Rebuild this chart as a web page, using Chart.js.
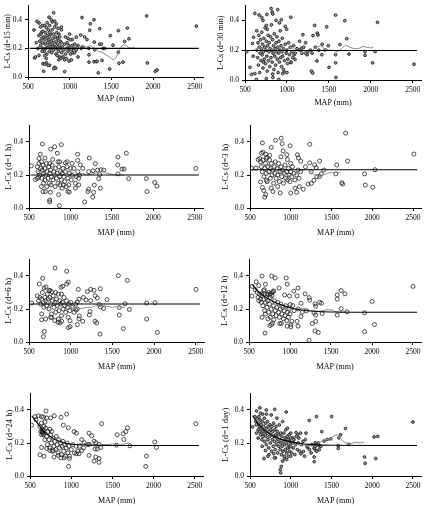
<!DOCTYPE html>
<html>
<head>
<meta charset="utf-8">
<script src="https://cdn.jsdelivr.net/npm/chart.js@4"></script>
<style>
  body { margin: 0; width: 426px; height: 506px; background: #fff; overflow: hidden; position: relative; }
  canvas { position: absolute; }
</style>
</head>
<body>
<script>
// tick labels
const xTicks = [500, 1000, 1500, 2000, 2500];
const yTicks = [0, 0.2, 0.4];
const durations = ["15 min", "30 min", "1 h", "3 h", "6 h", "12 h", "24 h", "1 day"];

// stations: [MAP (mm), L-Cs]
const pts15min = [[808,.449],[752,.418],[1148,.416],[1292,.40],[1248,.373],[1240,.327],[1360,.338],[1924,.427],[2520,.356],[1692,.342],[1584,.324],[1488,.289],[1712,.267],[1660,.249],[1520,.222],[1360,.229],[1296,.244],[1208,.262],[1132,.293],[1080,.278],[1032,.262],[900,.349],[1232,.155],[1232,.104],[1292,.107],[1320,.107],[1388,.116],[1344,.029],[1480,.056],[1592,.096],[1640,.104],[1584,.173],[1932,.098],[2028,.04],[2048,.049],[1100,.14],[992,.111],[940,.038],[820,.067],[832,.062],[808,.058],[760,.082],[740,.082],[688,.04],[680,.093],[632,.151],[580,.133],[572,.329],[608,.389],[632,.378],[672,.36],[660,.311],[720,.345],[760,.36],[792,.385],[820,.39],[1000,.3],[1100,.22],[1050,.2],[1160,.21],[1300,.19],[1400,.2],
  [640,.25],[650,.22],[655,.3],[665,.27],[670,.24],[675,.2],[680,.32],[690,.28],[695,.18],[700,.26],[705,.23],[710,.31],[715,.2],[720,.27],[725,.16],[730,.29],[735,.24],[740,.21],[745,.33],[750,.26],[755,.18],[760,.28],[765,.23],[770,.3],[775,.2],[780,.25],[785,.17],[790,.33],[795,.22],[800,.27],[805,.3],[810,.19],[815,.24],[820,.35],[825,.21],[830,.28],[835,.16],[840,.25],[845,.31],[850,.2],[855,.23],[860,.27],[865,.18],[870,.3],[875,.22],[880,.14],[885,.25],[890,.2],[895,.13],[900,.24],[905,.17],[910,.21],[920,.14],[930,.19],[940,.23],[950,.16],[960,.2],[970,.24],[980,.18],[990,.22],[1000,.2],[1010,.16],[1020,.19],[1030,.22],[1040,.17],[1060,.23],[1080,.19],[1090,.21],[700,.15],[720,.13],[650,.35],[630,.29],[620,.2],[600,.24],[590,.14],[700,.36],[730,.38],[780,.4],[840,.37],[860,.34],[880,.28],[900,.33],[950,.28],[980,.27],[1010,.26],[760,.31],[800,.21],[850,.15],[870,.12],[940,.12],[960,.13],[1020,.12],[1060,.17],[720,.1],[700,.09],[670,.18],[1140,.2],[1180,.28],[1230,.2],[1330,.11],[1380,.23],[1420,.2]];

const pts30min = [[520,.19],[617,.447],[668,.436],[715,.40],[754,.366],[765,.34],[812,.48],[824,.457],[832,.443],[890,.472],[910,.383],[933,.404],[1046,.421],[996,.34],[1190,.304],[1330,.366],[1362,.315],[1370,.302],[1311,.298],[1475,.357],[1580,.436],[1690,.398],[1713,.277],[2080,.387],[2516,.106],[2021,.115],[2052,.191],[1931,.191],[1931,.166],[1740,.174],[1631,.238],[1580,.17],[1580,.115],[1584,.017],[1502,.085],[1494,.23],[1455,.202],[1416,.17],[1358,.128],[1292,.06],[1307,.047],[1241,.17],[1222,.18],[1175,.213],[1222,.25],[1151,.26],[1085,.17],[1097,.138],[1046,.117],[1007,.11],[968,.053],[949,.043],[902,.004],[832,.017],[754,.01],[636,.004],[617,.043],[578,.038],[559,.085],[598,.16],[590,.245],[602,.287],
  [640,.2],[650,.15],[655,.25],[660,.1],[665,.3],[670,.22],[675,.05],[680,.18],[685,.27],[690,.13],[695,.21],[700,.32],[705,.17],[710,.24],[715,.08],[720,.19],[725,.28],[730,.14],[735,.22],[740,.35],[745,.11],[750,.2],[755,.26],[760,.16],[765,.06],[770,.23],[775,.3],[780,.13],[785,.19],[790,.25],[795,.09],[800,.21],[805,.29],[810,.15],[815,.37],[820,.2],[825,.12],[830,.27],[835,.18],[840,.23],[845,.07],[850,.31],[855,.16],[860,.21],[865,.1],[870,.25],[875,.19],[880,.29],[885,.14],[890,.22],[895,.05],[900,.18],[905,.26],[910,.12],[915,.2],[920,.33],[925,.15],[930,.23],[935,.09],[940,.19],[945,.28],[950,.16],[960,.21],[970,.13],[980,.24],[990,.18],[1000,.2],[1010,.14],[1020,.25],[1030,.17],[1040,.22],[1050,.12],[1060,.19],[1070,.15],[1080,.23],[1100,.18],[1120,.21],[1150,.2],[1180,.18],[1200,.22],[1250,.19],[1280,.2],[1300,.18],[1340,.22],[1380,.2],[1420,.24],[700,.42],[760,.44],[870,.4],[980,.36],[640,.33],[720,.12],[830,.04],[960,.07],[1000,.05]];

const pts1h = [[528,.255],[661,.388],[890,.384],[810,.371],[762,.357],[842,.332],[637,.326],[693,.303],[786,.294],[850,.28],[750,.269],[939,.274],[1087,.326],[1088,.288],[1120,.261],[1228,.303],[1301,.269],[1273,.226],[1220,.22],[1328,.23],[1353,.203],[1341,.178],[1369,.232],[1401,.23],[1361,.12],[1289,.139],[1281,.095],[1269,.066],[1220,.114],[1212,.1],[1172,.037],[1059,.12],[970,.1],[986,.096],[858,.081],[866,.014],[750,.037],[750,.048],[669,.1],[758,.095],[577,.172],[617,.187],[1574,.309],[1571,.261],[1574,.207],[1675,.332],[1647,.236],[1622,.236],[1703,.178],[1916,.178],[1924,.1],[2017,.155],[2045,.133],[2512,.24],
  [600,.25],[610,.22],[620,.27],[630,.2],[640,.24],[650,.28],[655,.18],[660,.23],[670,.26],[675,.15],[680,.21],[690,.24],[695,.17],[700,.2],[710,.27],[715,.13],[720,.22],[730,.18],[740,.25],[745,.15],[750,.21],[760,.23],[765,.14],[770,.19],[780,.26],[790,.17],[800,.22],[810,.2],[815,.13],[820,.24],[830,.18],[840,.21],[850,.15],[860,.25],[870,.19],[875,.14],[880,.22],[890,.17],[900,.21],[910,.24],[915,.14],[920,.19],[930,.16],[940,.22],[950,.13],[960,.25],[970,.18],[980,.14],[990,.21],[1000,.24],[1010,.17],[1020,.2],[1040,.24],[1060,.15],[1070,.19],[1090,.22],[1100,.18],[1110,.2],[1150,.24],[1100,.14],[600,.18],[650,.13],[700,.1],[900,.12],[620,.3],[870,.28],[960,.28],[1020,.27]];

const pts3h = [[520,.242],[572,.242],[600,.294],[620,.3],[641,.332],[661,.338],[652,.394],[693,.326],[709,.307],[741,.319],[761,.367],[813,.41],[882,.423],[894,.39],[906,.346],[952,.323],[992,.377],[958,.294],[1082,.323],[1094,.303],[1122,.284],[1233,.386],[1233,.274],[1293,.261],[1313,.245],[1354,.284],[1406,.23],[1374,.207],[1354,.191],[1285,.168],[1253,.149],[1213,.145],[1153,.114],[1104,.129],[1052,.12],[1000,.091],[1072,.095],[871,.091],[693,.081],[681,.066],[669,.106],[653,.124],[629,.158],[701,.168],[781,.1],[1564,.261],[1552,.207],[1625,.153],[1637,.145],[1697,.284],[1673,.454],[1906,.207],[1914,.139],[2006,.126],[2034,.232],[2510,.327],
  [630,.28],[640,.25],[650,.22],[660,.29],[670,.19],[680,.24],[690,.27],[700,.21],[710,.16],[720,.25],[730,.22],[740,.29],[750,.18],[755,.24],[760,.27],[770,.2],[780,.23],[790,.15],[800,.25],[805,.21],[810,.28],[820,.18],[830,.24],[840,.2],[850,.27],[860,.16],[870,.22],[880,.25],[890,.19],[900,.23],[910,.15],[920,.21],[930,.26],[940,.18],[950,.22],[960,.17],[970,.24],[980,.2],[990,.16],[1000,.22],[1010,.19],[1020,.25],[1040,.21],[1050,.17],[1070,.2],[1090,.23],[1100,.18],[1120,.22],[760,.12],[840,.13],[700,.3],[880,.31],[1000,.27],[1180,.25],[1250,.22],[1320,.19]];

const pts6h = [[532,.236],[812,.448],[952,.429],[664,.386],[624,.352],[680,.328],[704,.334],[752,.313],[772,.305],[884,.332],[904,.338],[952,.352],[972,.363],[1092,.319],[1200,.305],[1240,.319],[1280,.313],[1356,.323],[1184,.255],[1240,.251],[1152,.27],[1080,.242],[1064,.193],[1104,.158],[1144,.126],[1080,.106],[992,.093],[972,.087],[992,.129],[852,.139],[872,.116],[892,.126],[772,.149],[652,.17],[652,.135],[684,.064],[672,.033],[1232,.184],[1224,.164],[1292,.126],[1312,.116],[1344,.228],[1356,.212],[1352,.048],[1320,.267],[1292,.28],[1436,.257],[1396,.203],[1572,.402],[1584,.209],[1584,.164],[1632,.081],[1652,.232],[1680,.373],[1704,.197],[1912,.236],[1912,.139],[2012,.238],[2040,.058],[2504,.319],
  [600,.28],[615,.25],[630,.27],[640,.23],[650,.26],[660,.3],[670,.24],[680,.21],[690,.27],[700,.25],[710,.22],[720,.29],[730,.26],[740,.2],[750,.27],[760,.23],[770,.17],[780,.25],[790,.28],[800,.21],[810,.24],[820,.18],[830,.26],[840,.22],[850,.29],[860,.19],[870,.25],[880,.23],[890,.16],[900,.24],[910,.2],[920,.27],[930,.22],[940,.18],[950,.25],[960,.21],[970,.15],[980,.23],[990,.19],[1000,.24],[1020,.21],[1040,.18],[1060,.23],[1080,.2],[1100,.26],[700,.14],[760,.15],[810,.13],[850,.12],[1100,.14],[740,.31],[820,.3],[890,.29]];

const pts12h = [[540,.337],[659,.4],[775,.4],[819,.388],[954,.388],[966,.35],[588,.365],[620,.342],[700,.35],[687,.317],[576,.317],[536,.279],[655,.292],[735,.288],[795,.304],[867,.327],[934,.285],[994,.279],[1046,.308],[1098,.327],[1086,.279],[1185,.292],[1233,.269],[1241,.254],[1002,.227],[1034,.221],[1134,.235],[1305,.231],[1313,.217],[1361,.24],[1384,.235],[1293,.177],[1313,.163],[1392,.173],[1134,.154],[1086,.125],[1098,.096],[1022,.125],[1010,.106],[1010,.092],[966,.096],[894,.112],[875,.112],[803,.135],[787,.115],[775,.106],[755,.1],[695,.054],[1233,.01],[1273,.112],[1305,.067],[1345,.058],[1313,.125],[1576,.285],[1576,.26],[1576,.163],[1624,.312],[1624,.202],[1671,.292],[1695,.183],[1910,.177],[1910,.063],[2002,.246],[2030,.106],[2500,.337],
  [600,.3],[610,.27],[620,.25],[630,.29],[640,.26],[650,.24],[660,.28],[670,.22],[680,.26],[690,.19],[700,.24],[710,.27],[720,.21],[730,.25],[740,.18],[750,.23],[760,.27],[770,.2],[780,.28],[790,.17],[800,.22],[810,.25],[820,.19],[830,.16],[840,.21],[850,.24],[860,.18],[870,.15],[880,.2],[890,.23],[900,.17],[910,.21],[920,.14],[930,.19],[940,.16],[950,.22],[960,.13],[970,.18],[980,.15],[990,.2],[1000,.17],[1050,.19],[1100,.2],[1150,.18],[1200,.19],[660,.15],[700,.17],[730,.14],[760,.15],[720,.29],[740,.3],[760,.29],[780,.3],[800,.31],[680,.31]];

const pts24h = [[520,.308],[561,.36],[601,.365],[641,.36],[662,.356],[702,.352],[573,.34],[638,.321],[682,.327],[694,.394],[750,.352],[795,.365],[944,.375],[876,.356],[904,.308],[742,.283],[763,.269],[965,.292],[1035,.269],[1063,.26],[1217,.26],[1249,.244],[1128,.221],[1157,.202],[1217,.192],[1278,.212],[1298,.202],[1338,.192],[1318,.163],[1290,.163],[1359,.173],[1298,.115],[1338,.106],[1278,.09],[1338,.083],[1369,.317],[1217,.125],[1128,.154],[1096,.135],[1063,.135],[977,.106],[969,.058],[914,.11],[876,.11],[843,.125],[783,.154],[742,.154],[702,.167],[641,.173],[621,.129],[670,.119],[791,.115],[1550,.187],[1558,.25],[1631,.256],[1664,.269],[1683,.292],[1639,.221],[1712,.183],[1914,.121],[1905,.058],[2015,.206],[2035,.173],[2512,.317],
  [620,.3],[630,.27],[640,.25],[650,.28],[655,.26],[660,.27],[665,.25],[670,.3],[680,.22],[690,.29],[700,.24],[710,.19],[720,.27],[730,.22],[740,.17],[750,.25],[760,.2],[770,.15],[780,.23],[790,.18],[800,.21],[810,.16],[820,.24],[830,.19],[840,.14],[850,.22],[860,.17],[870,.2],[880,.13],[890,.18],[900,.21],[910,.15],[920,.19],[930,.12],[940,.17],[950,.2],[960,.14],[970,.18],[980,.12],[1000,.16],[1020,.19],[1040,.14],[1060,.18],[1080,.15],[1100,.18],[1150,.17],[1200,.19],[650,.26],[645,.27],[660,.28]];

const pts1day = [[532,.298],[581,.394],[621,.413],[654,.375],[702,.375],[803,.404],[945,.388],[1227,.337],[1316,.36],[1502,.36],[1672,.288],[1611,.25],[1591,.231],[1583,.183],[1583,.167],[1712,.192],[1906,.115],[1914,.077],[2023,.237],[2068,.24],[2043,.106],[2500,.327],[1381,.269],[1300,.202],[1308,.187],[1348,.183],[1288,.167],[1308,.154],[1187,.26],[1207,.173],[1155,.148],[1126,.135],[1288,.115],[1288,.087],[1066,.263],[1086,.25],[1025,.231],[993,.192],[977,.173],[924,.106],[884,.058],[872,.038],[876,.019],[791,.135],[811,.11],[733,.129],[672,.106],[690,.154],[1449,.221],[1409,.212],[1490,.225],
  [560,.36],[570,.33],[580,.31],[590,.35],[600,.28],[605,.32],[610,.36],[615,.3],[620,.27],[625,.34],[630,.25],[635,.31],[640,.29],[645,.22],[650,.33],[655,.27],[660,.24],[665,.3],[670,.26],[675,.35],[680,.21],[685,.28],[690,.32],[695,.24],[700,.19],[705,.29],[710,.26],[715,.33],[720,.22],[725,.3],[730,.17],[735,.27],[740,.24],[745,.31],[750,.2],[755,.28],[760,.25],[765,.15],[770,.3],[775,.22],[780,.27],[785,.18],[790,.32],[795,.24],[800,.21],[805,.28],[810,.16],[815,.25],[820,.3],[825,.19],[830,.23],[835,.27],[840,.14],[845,.21],[850,.25],[855,.18],[860,.31],[865,.22],[870,.16],[875,.26],[880,.2],[885,.13],[890,.24],[895,.18],[900,.33],[905,.15],[910,.21],[915,.26],[920,.12],[925,.19],[930,.23],[935,.16],[940,.28],[945,.2],[950,.14],[955,.24],[960,.17],[965,.22],[970,.12],[975,.19],[980,.25],[985,.15],[990,.21],[995,.18],[1000,.23],[1010,.14],[1020,.2],[1030,.17],[1040,.22],[1050,.13],[1060,.19],[1070,.24],[1080,.16],[1090,.2],[1100,.23],[1110,.15],[1130,.19],[1150,.21],[1170,.12],[1200,.18],[1230,.16],[1260,.19],[1290,.17],[1320,.15],[1340,.2],[1370,.18],[700,.4],[760,.37],[630,.38],[830,.35],[960,.29],[1000,.26],[720,.12],[800,.11],[900,.09],[950,.1],[1000,.12],[650,.18],[600,.23],[580,.26],[1120,.26],[1180,.22],[1250,.14],[1300,.18],[1350,.16]];

// fitted line (black): x and y per panel
const fitX = [
  [520, 2550], [520, 2550], [520, 2550], [520, 2550], [520, 2550],
  [540, 608, 707, 867, 1066, 1265, 1500, 2550],
  [520, 581, 641, 742, 854, 1015, 1258, 1500, 2550],
  [532, 601, 702, 864, 1066, 1268, 1500, 2550]
];
const fitY = [
  [0.200, 0.200], [0.198, 0.198], [0.200, 0.200], [0.232, 0.232], [0.230, 0.230],
  [0.350, 0.308, 0.270, 0.230, 0.200, 0.188, 0.182, 0.180],
  [0.365, 0.327, 0.288, 0.240, 0.211, 0.192, 0.187, 0.185, 0.185],
  [0.365, 0.317, 0.269, 0.225, 0.202, 0.190, 0.186, 0.185]
];

// moving average (grey): x and y per panel
const avgX = [
  [600,650,700,750,800,850,900,950,1000,1050,1100,1150,1200,1250,1300,1350,1400,1450,1500,1530,1560,1600,1630,1660,1700,1740,1780],
  [600,650,700,750,800,850,900,950,1000,1050,1100,1150,1200,1250,1300,1350,1400,1450,1500,1550,1600,1650,1700,1750,1800,1850,1900,1950,2000,2030],
  [600,650,700,750,800,850,900,950,1000,1050,1100,1150,1200,1250,1300,1350,1400,1450,1500,1550,1600,1650],
  [600,650,700,750,800,850,900,950,1000,1050,1100,1150,1200,1250,1300,1350,1400,1450,1500,1550,1600],
  [600,650,700,750,800,850,900,950,1000,1050,1100,1150,1200,1250,1300,1350,1400,1450,1500,1550,1600,1650],
  [560,600,650,700,750,800,850,900,950,1000,1050,1100,1150,1200,1250,1300,1350,1400,1450,1500,1550,1600,1650,1700],
  [560,600,650,700,750,800,850,900,950,1000,1050,1100,1150,1200,1250,1300,1350,1400,1450,1500,1550,1600,1650,1700],
  [550,600,650,700,750,800,850,900,950,1000,1050,1100,1150,1200,1250,1300,1350,1400,1450,1500,1540,1570,1600,1640,1680,1720,1760,1800,1850,1900]
];
const avgY = [
  [.24,.25,.26,.28,.27,.24,.22,.19,.2,.2,.21,.22,.21,.22,.2,.18,.17,.15,.13,.12,.14,.19,.22,.23,.21,.2,.21],
  [.2,.21,.22,.2,.21,.2,.19,.2,.21,.22,.2,.19,.18,.19,.2,.22,.23,.21,.2,.2,.19,.21,.235,.22,.21,.21,.225,.22,.215,.22],
  [.22,.22,.21,.2,.21,.19,.18,.17,.18,.19,.2,.21,.2,.205,.21,.22,.22,.21,.205,.2,.2,.2],
  [.25,.27,.26,.25,.24,.22,.21,.2,.195,.2,.22,.23,.24,.22,.2,.19,.2,.21,.215,.215,.215],
  [.26,.25,.25,.24,.24,.23,.23,.22,.21,.205,.2,.205,.21,.21,.22,.22,.22,.215,.21,.215,.21,.21],
  [.33,.3,.28,.26,.24,.23,.215,.21,.205,.2,.2,.2,.205,.2,.19,.18,.185,.19,.195,.195,.185,.18,.18,.18],
  [.34,.32,.29,.26,.24,.22,.21,.2,.195,.19,.19,.195,.2,.19,.185,.18,.185,.19,.19,.195,.19,.19,.195,.2],
  [.35,.33,.3,.28,.26,.24,.22,.21,.2,.195,.19,.19,.19,.185,.185,.18,.2,.22,.22,.23,.245,.25,.235,.21,.2,.195,.2,.205,.2,.205]
];

const allPts = [pts15min, pts30min, pts1h, pts3h, pts6h, pts12h, pts24h, pts1day];

// plot-area boxes in page pixels (left, top, right, bottom of axes), title offset below axis
const boxes = [
  {L: 28, T: 2, R: 203, B: 77, ty: 22},
  {L: 245, T: 2, R: 424, B: 80, ty: 23},
  {L: 29, T: 122, R: 203, B: 208, ty: 25},
  {L: 250, T: 122, R: 424, B: 208, ty: 25},
  {L: 29, T: 256, R: 204, B: 342, ty: 25},
  {L: 249, T: 256, R: 424, B: 342, ty: 25},
  {L: 30, T: 390, R: 203, B: 476, ty: 25},
  {L: 250, T: 390, R: 422, B: 476, ty: 25}
];

const serif = "'Liberation Serif', 'Times New Roman', serif";

function pairs(xs, ys) {
  return xs.map((x, i) => ({x: x, y: ys[i]}));
}

allPts.forEach((pts, i) => {
  const b = boxes[i];
  const col = i % 2;
  const left = col * 213;
  const top = b.T - 4;
  const xh = Math.round(b.ty + 4.8);
  const yw = b.L - left;
  const pr = left + 213 - b.R;
  const titleSize = i < 2 ? 8 : 8.8;
  const titleX = b.L - (col ? 24 : 20);

  const cv = document.createElement("canvas");
  cv.width = 213;
  cv.height = (b.B - b.T) + 4 + xh;
  cv.style.left = left + "px";
  cv.style.top = top + "px";
  document.body.appendChild(cv);

  const dense = (i === 0 || i === 1 || i === 7);
  const tickFont = {family: serif, size: 7.5};

  new Chart(cv, {
    type: "scatter",
    data: {
      datasets: [
        {
          data: pairs(fitX[i], fitY[i]),
          showLine: true,
          borderColor: "#000",
          borderWidth: 1.1,
          pointRadius: 0,
          tension: i >= 5 ? 0.4 : 0,
        },
        {
          data: pairs(avgX[i], avgY[i]),
          showLine: true,
          borderColor: "#8c8c8c",
          borderWidth: 1,
          pointRadius: 0,
        },
        {
          data: pts.map((p) => ({x: p[0], y: p[1]})),
          pointRadius: dense ? 1.4 : 2,
          pointBorderWidth: dense ? 0.9 : 0.8,
          borderColor: "#222",
          backgroundColor: dense ? "#9a9a9a" : "rgba(0,0,0,0)",
        },
      ],
    },
    options: {
      responsive: false,
      animation: false,
      devicePixelRatio: 1,
      layout: {padding: {left: 0, top: 4, right: pr, bottom: 0}},
      plugins: {legend: {display: false}, tooltip: {enabled: false}},
      scales: {
        x: {
          type: "linear",
          min: 500,
          max: 2600,
          afterBuildTicks: (s) => { s.ticks = xTicks.map((v) => ({value: v})); },
          afterFit: (s) => { s.height = xh; },
          grid: {drawOnChartArea: false, drawTicks: true, tickLength: 3, color: "#000"},
          border: {color: "#000", width: 1},
          ticks: {font: tickFont, color: "#000", padding: 3, maxRotation: 0, autoSkip: false, callback: (v) => String(v)},
          title: {display: true, text: "MAP (mm)", font: {family: serif, size: 8}, color: "#000", padding: 0},
        },
        y: {
          min: 0,
          max: 0.5,
          afterBuildTicks: (s) => { s.ticks = yTicks.map((v) => ({value: v})); },
          afterFit: (s) => { s.width = yw; },
          grid: {drawOnChartArea: false, drawTicks: true, tickLength: 3, color: "#000"},
          border: {color: "#000", width: 1},
          ticks: {font: tickFont, color: "#000", padding: 3, callback: (v) => v.toFixed(1)},
          title: {
            display: true,
            text: "L-Cs (d=" + durations[i] + ")",
            font: {family: serif, size: titleSize},
            color: "#000",
            padding: {top: titleX - left - titleSize * 0.6, bottom: 0},
          },
        },
      },
    },
  });
});
</script>
</body>
</html>
